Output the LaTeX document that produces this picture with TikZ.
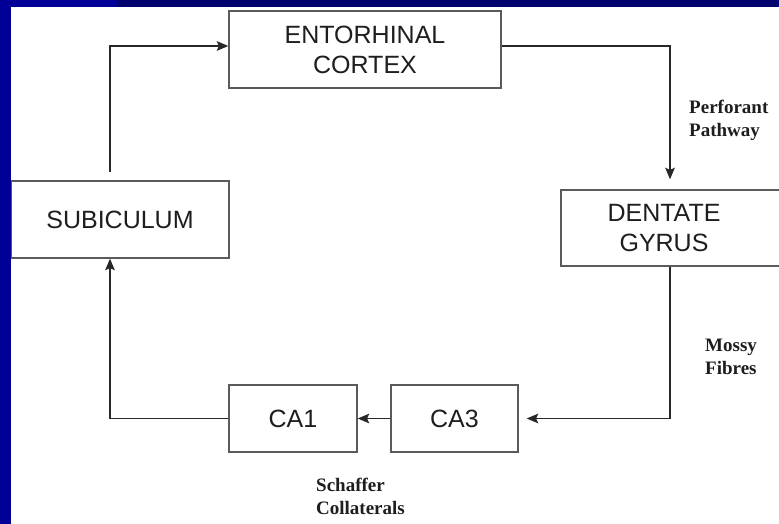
\documentclass[tikz,border=0pt]{standalone}
\usepackage{fontspec}
\setmainfont{Liberation Serif}
\newfontfamily\arialf{Liberation Sans}
\usetikzlibrary{arrows.meta,calc}
\definecolor{slideblue}{RGB}{0,0,150}
\definecolor{slidenavy}{RGB}{0,0,110}
\definecolor{boxline}{RGB}{90,90,90}
\definecolor{arrline}{RGB}{40,40,40}
\definecolor{txt}{RGB}{30,30,30}
\begin{document}
\begin{tikzpicture}[x=1pt,y=-1pt,
  boxtext/.style={align=center, inner sep=0pt, text=txt, font=\arialf\fontsize{25}{30}\selectfont},
  boxnode/.style={boxtext, draw=boxline, line width=1.3pt, fill=white},
  lbl/.style={align=left, inner sep=0pt, anchor=base west, text=txt, font=\bfseries\fontsize{19}{23}\selectfont},
  arr/.style={draw=arrline, line width=1.7pt, -{Stealth[length=11.5pt,width=9.5pt,inset=2pt]}}]
\useasboundingbox (0,0) rectangle (779,524);
\fill[white] (0,0) rectangle (779,524);
% boxes
\node[boxnode, minimum width=272pt, minimum height=77pt] (ec) at (365,49.5) {ENTORHINAL\\CORTEX};
\node[boxnode, minimum width=218pt, minimum height=77pt] (sub) at (120,219.5) {SUBICULUM};
\node[boxnode, minimum width=240pt, minimum height=76pt,
      label={[boxtext, xshift=-17pt]center:{DENTATE\\GYRUS}}] (dg) at (681,228) {};
\node[boxnode, minimum width=128pt, minimum height=67pt] (ca1) at (293,418.5) {CA1};
\node[boxnode, minimum width=127pt, minimum height=67pt] (ca3) at (454.5,418.5) {CA3};
% routing coordinates
\coordinate (lx) at (110,46);
\coordinate (rx) at (670,418.5);
% connectors
\draw[arr, shorten <=8pt] (sub.north -| lx) |- (ec.west |- lx);
\draw[arr, shorten >=10pt] (ec.east |- lx) -| (rx |- dg.north);
\draw[arr, shorten >=8pt] (rx |- dg.south) |- (ca3.east);
\draw[arr] (ca3.west) -- (ca1.east);
\draw[arr] (ca1.west) -| (lx |- sub.south);
% labels (anchored at the baseline of the last line)
\node[lbl] (pp) at (689,136) {Perforant\\Pathway};
\node[lbl] (mf) at (705,374) {Mossy\\Fibres};
\node[lbl] (sc) at (316,514) {Schaffer\\Collaterals};
% slide frame
\fill[slidenavy] (0,0) rectangle (779,7);
\fill[slideblue] (0,0) rectangle (118,7);
\fill[slideblue] (0,0) rectangle (11,524);
\end{tikzpicture}
\end{document}
